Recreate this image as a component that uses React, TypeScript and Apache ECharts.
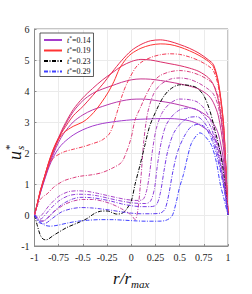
import React, { useEffect, useRef } from "react";
import * as echarts from "echarts";

type P = [number, number][];

// r/r_max ticks and u_s* ticks
const xTickValues = [-1, -0.75, -0.5, -0.25, 0, 0.25, 0.5, 0.75, 1];
const yTickValues = [-1, 0, 1, 2, 3, 4, 5, 6];

// solid profiles t* = 0.14 ... 0.19
const s014: P = [[-1,0],[-0.97,0.35],[-0.94,0.7],[-0.9,1.1],[-0.85,1.55],[-0.8,1.9],[-0.75,2.15],[-0.7,2.33],[-0.6,2.58],[-0.5,2.75],[-0.4,2.87],[-0.3,2.95],[-0.2,3.0],[-0.1,3.04],[0,3.07],[0.1,3.09],[0.2,3.1],[0.3,3.11],[0.4,3.11],[0.5,3.09],[0.6,3.04],[0.7,2.92],[0.8,2.7],[0.85,2.52],[0.9,2.25],[0.95,1.6],[0.975,0.95],[1,0]];
const s015: P = [[-1,0],[-0.97,0.35],[-0.94,0.72],[-0.9,1.12],[-0.85,1.6],[-0.8,2.0],[-0.75,2.35],[-0.7,2.62],[-0.6,3.0],[-0.5,3.23],[-0.4,3.39],[-0.3,3.5],[-0.2,3.6],[-0.1,3.68],[0,3.73],[0.1,3.74],[0.2,3.72],[0.3,3.67],[0.4,3.62],[0.5,3.55],[0.6,3.47],[0.7,3.36],[0.8,3.15],[0.85,2.95],[0.9,2.62],[0.95,1.85],[0.975,1.1],[1,0]];
const s016: P = [[-1,0],[-0.97,0.36],[-0.94,0.74],[-0.9,1.15],[-0.85,1.65],[-0.8,2.07],[-0.75,2.45],[-0.7,2.8],[-0.6,3.33],[-0.5,3.69],[-0.4,3.92],[-0.3,4.06],[-0.2,4.17],[-0.1,4.28],[0,4.36],[0.1,4.39],[0.2,4.38],[0.3,4.34],[0.4,4.29],[0.5,4.23],[0.6,4.16],[0.7,4.06],[0.8,3.85],[0.85,3.62],[0.9,3.2],[0.95,2.25],[0.975,1.35],[1,0]];
const s017: P = [[-1,0],[-0.97,0.37],[-0.94,0.76],[-0.9,1.18],[-0.85,1.7],[-0.8,2.12],[-0.75,2.5],[-0.7,2.85],[-0.6,3.4],[-0.5,3.78],[-0.4,4.08],[-0.3,4.35],[-0.2,4.58],[-0.1,4.8],[0,4.95],[0.1,5.02],[0.2,5.0],[0.3,4.94],[0.4,4.88],[0.5,4.82],[0.6,4.74],[0.7,4.63],[0.8,4.42],[0.85,4.2],[0.9,3.7],[0.95,2.6],[0.975,1.55],[1,0]];
const s018: P = [[-1,0],[-0.97,0.38],[-0.94,0.78],[-0.9,1.2],[-0.85,1.73],[-0.8,2.17],[-0.75,2.5],[-0.7,2.75],[-0.6,3.2],[-0.5,3.5],[-0.4,3.85],[-0.3,4.2],[-0.2,4.6],[-0.1,4.98],[0,5.3],[0.1,5.5],[0.2,5.62],[0.3,5.65],[0.4,5.6],[0.5,5.5],[0.6,5.38],[0.7,5.22],[0.8,5.0],[0.85,4.85],[0.9,4.3],[0.95,3.1],[0.975,1.8],[1,0]];
const s019: P = [[-1,0],[-0.97,0.38],[-0.94,0.78],[-0.9,1.2],[-0.85,1.72],[-0.8,2.15],[-0.75,2.45],[-0.7,2.65],[-0.6,2.86],[-0.5,3.0],[-0.43,3.17],[-0.35,3.45],[-0.25,3.9],[-0.18,4.3],[-0.12,4.73],[-0.05,5.05],[0,5.2],[0.1,5.38],[0.2,5.48],[0.3,5.52],[0.4,5.5],[0.5,5.42],[0.6,5.3],[0.7,5.15],[0.8,4.95],[0.85,4.78],[0.9,4.25],[0.95,3.05],[0.975,1.75],[1,0]];

// dash-dot profiles t* = 0.20 ... 0.29
const d020: P = [[-1,0],[-0.97,0.38],[-0.94,0.78],[-0.9,1.2],[-0.85,1.6],[-0.8,1.85],[-0.7,2.03],[-0.6,2.12],[-0.5,2.2],[-0.4,2.3],[-0.3,2.42],[-0.22,2.65],[-0.15,3.28],[-0.1,3.8],[-0.05,4.21],[0.04,4.73],[0.1,4.92],[0.2,5.08],[0.3,5.17],[0.4,5.2],[0.5,5.18],[0.6,5.1],[0.7,4.98],[0.8,4.8],[0.85,4.65],[0.9,4.15],[0.95,3.0],[0.975,1.72],[1,0]];
const d021: P = [[-1,0],[-0.97,0.3],[-0.94,0.5],[-0.9,0.62],[-0.87,0.68],[-0.8,0.9],[-0.7,1.1],[-0.6,1.2],[-0.53,1.25],[-0.4,1.3],[-0.3,1.37],[-0.19,1.52],[-0.1,1.7],[-0.05,2.03],[0,2.5],[0.04,3.07],[0.1,3.5],[0.15,3.85],[0.23,4.3],[0.3,4.5],[0.4,4.62],[0.5,4.66],[0.6,4.62],[0.7,4.52],[0.8,4.35],[0.85,4.2],[0.9,3.8],[0.95,2.75],[0.975,1.6],[1,0]];
const d022: P = [[-1,0],[-0.96,-0.12],[-0.92,-0.2],[-0.88,-0.15],[-0.8,0.1],[-0.7,0.32],[-0.6,0.45],[-0.5,0.5],[-0.4,0.5],[-0.3,0.45],[-0.2,0.35],[-0.1,0.2],[0,0.0],[0.04,-0.15],[0.07,0.2],[0.1,1.2],[0.13,2.4],[0.17,3.3],[0.23,3.9],[0.3,4.2],[0.4,4.38],[0.5,4.42],[0.6,4.38],[0.7,4.25],[0.8,4.05],[0.85,3.9],[0.9,3.5],[0.95,2.55],[0.975,1.5],[1,0]];
const d023: P = [[-1,0],[-0.97,-0.35],[-0.94,-0.65],[-0.91,-0.78],[-0.88,-0.8],[-0.8,-0.65],[-0.67,-0.41],[-0.55,-0.25],[-0.46,-0.12],[-0.38,0.05],[-0.32,0.12],[-0.25,0.13],[-0.15,0.03],[-0.1,0.05],[-0.06,0.14],[0,0.45],[0.04,1.0],[0.09,1.6],[0.14,2.24],[0.19,2.86],[0.26,3.38],[0.33,3.8],[0.4,4.05],[0.5,4.2],[0.6,4.18],[0.68,4.1],[0.75,3.85],[0.81,3.39],[0.86,2.8],[0.92,2.03],[0.96,1.2],[1,0]];
const d024: P = [[-1,0],[-0.96,-0.08],[-0.92,0.02],[-0.85,0.3],[-0.75,0.6],[-0.65,0.75],[-0.55,0.78],[-0.45,0.76],[-0.35,0.7],[-0.25,0.63],[-0.15,0.56],[-0.05,0.5],[0.05,0.47],[0.12,0.5],[0.16,0.8],[0.19,1.35],[0.22,2.1],[0.26,2.8],[0.32,3.3],[0.4,3.6],[0.5,3.74],[0.6,3.72],[0.68,3.65],[0.75,3.45],[0.82,3.05],[0.88,2.4],[0.93,1.6],[0.97,0.8],[1,0]];
const d025: P = [[-1,0],[-0.96,-0.15],[-0.92,-0.1],[-0.85,0.15],[-0.75,0.45],[-0.65,0.62],[-0.55,0.67],[-0.45,0.66],[-0.35,0.62],[-0.25,0.55],[-0.15,0.48],[-0.05,0.42],[0.05,0.38],[0.15,0.37],[0.2,0.45],[0.24,0.85],[0.27,1.6],[0.31,2.35],[0.36,2.9],[0.44,3.25],[0.52,3.42],[0.6,3.45],[0.68,3.4],[0.75,3.2],[0.82,2.85],[0.88,2.25],[0.93,1.5],[0.97,0.75],[1,0]];
const d026: P = [[-1,0],[-0.95,-0.2],[-0.9,-0.18],[-0.82,0.05],[-0.72,0.33],[-0.62,0.5],[-0.52,0.57],[-0.42,0.56],[-0.32,0.52],[-0.2,0.44],[-0.1,0.36],[0,0.3],[0.1,0.27],[0.2,0.27],[0.26,0.33],[0.3,0.7],[0.34,1.45],[0.38,2.1],[0.44,2.65],[0.52,2.98],[0.6,3.15],[0.68,3.17],[0.75,3.0],[0.82,2.65],[0.88,2.1],[0.93,1.4],[0.97,0.7],[1,0]];
const d027: P = [[-1,0],[-0.95,-0.25],[-0.9,-0.28],[-0.82,-0.12],[-0.72,0.1],[-0.62,0.2],[-0.52,0.24],[-0.42,0.23],[-0.32,0.2],[-0.2,0.15],[-0.1,0.1],[0,0.06],[0.1,0.04],[0.2,0.04],[0.3,0.06],[0.35,0.2],[0.39,0.7],[0.43,1.4],[0.48,2.05],[0.55,2.55],[0.62,2.85],[0.7,2.93],[0.77,2.8],[0.83,2.45],[0.88,1.95],[0.93,1.3],[0.97,0.65],[1,0]];
const d029: P = [[-1,0],[-0.95,-0.2],[-0.9,-0.32],[-0.84,-0.36],[-0.76,-0.33],[-0.66,-0.26],[-0.55,-0.2],[-0.45,-0.17],[-0.32,-0.15],[-0.2,-0.15],[-0.06,-0.17],[0.05,-0.19],[0.15,-0.2],[0.28,-0.2],[0.36,-0.17],[0.42,-0.04],[0.46,0.35],[0.5,0.9],[0.54,1.31],[0.58,1.85],[0.62,2.3],[0.67,2.55],[0.71,2.65],[0.76,2.55],[0.83,2.24],[0.88,1.7],[0.92,1.0],[0.96,0.5],[1,0]];

const solidNames = ["t*=0.14", "s0.15", "s0.16", "s0.17", "s0.18", "t*=0.19"];
const solidData = [s014, s015, s016, s017, s018, s019];
const solidColors = ["#a43ccc", "#b83aac", "#c9358c", "#db2f6c", "#ec2b4c", "#ff3333"];

const dashNames = ["d0.20", "d0.21", "d0.22", "t*=0.23", "d0.24", "d0.25", "d0.26", "d0.27", "t*=0.29"];
const dashData = [d020, d021, d022, d023, d024, d025, d026, d027, d029];
const dashColors = ["#f23a55", "#dc3f7c", "#c443a0", "#000000", "#a844c8", "#9140d8", "#7a3de4", "#5e3cef", "#4040ff"];

const legendNames = ["t*=0.14", "t*=0.19", "t*=0.23", "t*=0.29"];

const SERIF = "'Liberation Serif', 'DejaVu Serif', serif";

export default function App() {
  const ref = useRef<HTMLDivElement>(null);
  useEffect(() => {
    if (!ref.current) return;
    const chart = echarts.init(ref.current, undefined, { renderer: "svg" });
    const series: any[] = [];
    solidData.forEach((d, i) => {
      series.push({
        name: solidNames[i],
        type: "line",
        data: d,
        symbol: "none",
        smooth: 0.3,
        lineStyle: { color: solidColors[i], width: 1 },
        itemStyle: { color: solidColors[i] },
      });
    });
    dashData.forEach((d, i) => {
      series.push({
        name: dashNames[i],
        type: "line",
        data: d,
        symbol: "none",
        smooth: 0.3,
        lineStyle: { color: dashColors[i], width: 1, type: [4, 1.5, 1, 1.5] },
        itemStyle: { color: dashColors[i] },
      });
    });
    chart.setOption({
      animation: false,
      backgroundColor: "#ffffff",
      grid: {
        left: 34.5,
        right: 24,
        top: 29,
        bottom: 40,
        show: true,
        borderColor: "#8c8c8c",
        borderWidth: 1,
        backgroundColor: "transparent",
      },
      legend: {
        data: legendNames,
        orient: "vertical",
        left: 40,
        top: 33,
        padding: [2, 3, 1, 3],
        itemGap: 1.5,
        itemWidth: 18,
        itemHeight: 8,
        backgroundColor: "#ffffff",
        borderColor: "#333333",
        borderWidth: 0.8,
        borderRadius: 0,
        selectedMode: false,
        itemStyle: { opacity: 0 },
        formatter: (name: string) => "{i|t}{s|*}{n|" + name.slice(2) + "}",
        textStyle: {
          fontFamily: SERIF,
          fontSize: 8,
          color: "#111",
          rich: {
            i: { fontFamily: SERIF, fontStyle: "italic", fontSize: 8, color: "#111" },
            s: { fontFamily: SERIF, fontSize: 5.5, color: "#111", verticalAlign: "top", padding: [0, 0, 4, 0] },
            n: { fontFamily: SERIF, fontSize: 8, color: "#111" },
          },
        },
      },
      xAxis: {
        type: "value",
        min: xTickValues[0],
        max: xTickValues[xTickValues.length - 1],
        interval: 0.25,
        name: "{a|r/r}{b|max}",
        nameLocation: "middle",
        nameGap: 22,
        nameTextStyle: {
          rich: {
            a: { fontFamily: SERIF, fontStyle: "italic", fontSize: 17, color: "#111" },
            b: { fontFamily: SERIF, fontStyle: "italic", fontSize: 11, color: "#111", padding: [10, 0, 0, 0] },
          },
        },
        axisLine: { show: true, onZero: false, lineStyle: { color: "#8c8c8c" } },
        axisTick: { show: true, inside: true, length: 2, lineStyle: { color: "#8c8c8c" } },
        splitLine: { show: true, lineStyle: { color: "#ebebeb", width: 1 } },
        axisLabel: { fontFamily: SERIF, fontSize: 10, color: "#222", margin: 6 },
      },
      yAxis: {
        type: "value",
        min: yTickValues[0],
        max: yTickValues[yTickValues.length - 1],
        interval: 1,
        axisLine: { show: true, onZero: false, lineStyle: { color: "#8c8c8c" } },
        axisTick: { show: true, inside: true, length: 2, lineStyle: { color: "#8c8c8c" } },
        splitLine: { show: true, lineStyle: { color: "#ebebeb", width: 1 } },
        axisLabel: { fontFamily: SERIF, fontSize: 10, color: "#222", margin: 5 },
      },
      graphic: [
        {
          type: "group",
          x: 15,
          y: 160,
          rotation: Math.PI / 2,
          silent: true,
          children: [
            {
              type: "text",
              x: 0,
              y: 0,
              style: { text: "u", font: "italic 18px " + SERIF, fill: "#111", textVerticalAlign: "middle", textAlign: "left" },
            },
            {
              type: "text",
              x: 10,
              y: 5,
              style: { text: "s", font: "italic 11px " + SERIF, fill: "#111", textVerticalAlign: "middle", textAlign: "left" },
            },
            {
              type: "text",
              x: 10,
              y: -6,
              style: { text: "*", font: "11px " + SERIF, fill: "#111", textVerticalAlign: "middle", textAlign: "left" },
            },
          ],
        },
      ],
      series,
    });
    return () => chart.dispose();
  }, []);
  return (
    <div
      ref={ref}
      style={{ position: "absolute", left: 0, top: 0, width: 252, height: 294 }}
    />
  );
}
